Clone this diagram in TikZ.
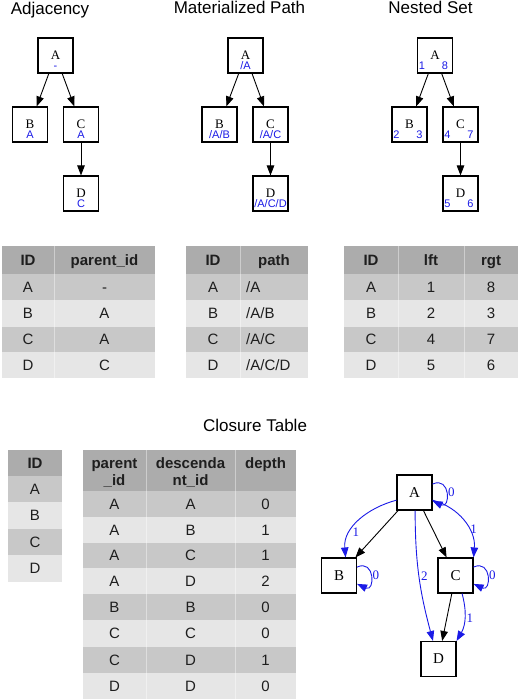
\documentclass[tikz,border=0pt]{standalone}
\usepackage{fontspec}
\setmainfont{Liberation Sans}
\newfontfamily\graphfont{Liberation Serif}
\usetikzlibrary{arrows.meta}
\definecolor{headgray}{HTML}{ACACAC}
\definecolor{darkrow}{HTML}{C8C8C8}
\definecolor{lightrow}{HTML}{E6E6E6}
\definecolor{celltext}{HTML}{1E1E1E}
\definecolor{subblue}{HTML}{1A1AE6}
\begin{document}
\begin{tikzpicture}[x=1pt, y=-1pt,
		treebox/.style={draw, line width=1.1pt, minimum size=35pt, inner sep=0pt, text depth=1.5pt, font=\graphfont\fontsize{13}{15}\selectfont},
		closurebox/.style={draw, line width=1.1pt, minimum size=35pt, inner sep=0pt, font=\graphfont\fontsize{15}{17}\selectfont},
		treearrow/.style={-{Triangle[length=10pt,width=7.5pt]}, line width=0.9pt},
		bluearc/.style={subblue, -{Triangle[length=10pt,width=7.5pt]}, line width=0.9pt},
		subtext/.style={anchor=base, inner sep=0pt, text=subblue, font=\fontsize{11}{13}\selectfont},
		edgelabel/.style={inner sep=1.5pt, text=subblue, font=\graphfont\fontsize{13}{15}\selectfont},
		titletext/.style={anchor=base, inner sep=0pt, font=\fontsize{17}{20}\selectfont},
		cell/.style={anchor=base, inner sep=0pt, text=celltext, font=\fontsize{15}{17}\selectfont},
		headcell/.style={cell, align=center, font=\bfseries\fontsize{15}{17}\selectfont},
		sep/.style={white, opacity=0.4, line width=1pt}]
		\useasboundingbox (0,0) rectangle (520,700);
		%Titles
		\node [titletext] (adjtitle) at (50,15) {Adjacency};
		\node [titletext] (mptitle) at (239.5,14) {Materialized Path};
		\node [titletext] (nstitle) at (430.5,14) {Nested Set};
		\node [titletext] (cttitle) at (255,431) {Closure Table};
		%Adjacency tree
		\node [treebox] (adjA) at (55.5,55.5) {A};
		\node [treebox] (adjB) at (30,124.5) {B};
		\node [treebox] (adjC) at (81,124.5) {C};
		\node [treebox] (adjD) at (81,193.5) {D};
		\draw [treearrow] (adjA) -- (adjB);
		\draw [treearrow] (adjA) -- (adjC);
		\draw [treearrow] (adjC) -- (adjD);
		\node [subtext] (adjAsub) at (55.5,69.5) {-};
		\node [subtext] (adjBsub) at (30,138.5) {A};
		\node [subtext] (adjCsub) at (81,138.5) {A};
		\node [subtext] (adjDsub) at (81,207.5) {C};
		%Materialized path tree
		\node [treebox] (mpA) at (245.5,55.5) {A};
		\node [treebox] (mpB) at (219.5,124.5) {B};
		\node [treebox] (mpC) at (270.5,124.5) {C};
		\node [treebox] (mpD) at (270.5,193.5) {D};
		\draw [treearrow] (mpA) -- (mpB);
		\draw [treearrow] (mpA) -- (mpC);
		\draw [treearrow] (mpC) -- (mpD);
		\node [subtext] (mpAsub) at (245.5,69.5) {/A};
		\node [subtext] (mpBsub) at (219.5,138.5) {/A/B};
		\node [subtext] (mpCsub) at (270.5,138.5) {/A/C};
		\node [subtext] (mpDsub) at (270.5,207.5) {/A/C/D};
		%Nested set tree
		\node [treebox] (nsA) at (435,55.5) {A};
		\node [treebox] (nsB) at (409.5,124.5) {B};
		\node [treebox] (nsC) at (460.5,124.5) {C};
		\node [treebox] (nsD) at (460.5,193.5) {D};
		\draw [treearrow] (nsA) -- (nsB);
		\draw [treearrow] (nsA) -- (nsC);
		\draw [treearrow] (nsC) -- (nsD);
		\node [subtext] (nsAlft) at (422,70) {1};
		\node [subtext] (nsArgt) at (445,70) {8};
		\node [subtext] (nsBlft) at (396.5,139) {2};
		\node [subtext] (nsBrgt) at (419.5,139) {3};
		\node [subtext] (nsClft) at (447.5,139) {4};
		\node [subtext] (nsCrgt) at (470.5,139) {7};
		\node [subtext] (nsDlft) at (447.5,208) {5};
		\node [subtext] (nsDrgt) at (470.5,208) {6};
		%Row backgrounds of the three upper tables
		\foreach \x/\xx in {2/155, 186/308, 344/518} {
			\fill [headgray] (\x,246) rectangle (\xx,274);
			\fill [darkrow] (\x,274) rectangle (\xx,300);
			\fill [lightrow] (\x,300) rectangle (\xx,327);
			\fill [darkrow] (\x,327) rectangle (\xx,352);
			\fill [lightrow] (\x,352) rectangle (\xx,378);
		}
		\draw [sep] (54,246) -- (54,378);
		\draw [sep] (240,246) -- (240,378);
		\draw [sep] (398,246) -- (398,378);
		\draw [sep] (464,246) -- (464,378);
		%Table headers
		\node [headcell] (adjhid) at (28,265.4) {ID};
		\node [headcell] (adjhpar) at (104.5,265.4) {parent\_id};
		\node [headcell] (mphid) at (213,265.4) {ID};
		\node [headcell] (mphpath) at (274,265.4) {path};
		\node [headcell] (nshid) at (371,265.4) {ID};
		\node [headcell] (nshlft) at (431,265.4) {lft};
		\node [headcell] (nshrgt) at (491,265.4) {rgt};
		%Table rows
		\foreach \yb/\id/\pid/\mpath/\lft/\rgt [count=\r] in {292.4/A/-/A/1/8, 318.9/B/A/A\slash B/2/3, 344.9/C/A/A\slash C/4/7, 370.4/D/C/A\slash C\slash D/5/6} {
			\node [cell] (adjid\r) at (28,\yb) {\id};
			\node [cell] (adjpar\r) at (104.5,\yb) {\pid};
			\node [cell] (mpid\r) at (213,\yb) {\id};
			\node [cell, anchor=base west] (mppath\r) at (246,\yb) {/\mpath};
			\node [cell] (nsid\r) at (371,\yb) {\id};
			\node [cell] (nslft\r) at (431,\yb) {\lft};
			\node [cell] (nsrgt\r) at (491,\yb) {\rgt};
		}
		%Closure table: ID column
		\fill [headgray] (8,450) rectangle (62,476);
		\fill [darkrow] (8,476) rectangle (62,502);
		\fill [lightrow] (8,502) rectangle (62,529);
		\fill [darkrow] (8,529) rectangle (62,555);
		\fill [lightrow] (8,555) rectangle (62,582);
		\node [headcell] (cthid) at (35,468.4) {ID};
		\foreach \yb/\id [count=\r] in {494.4/A, 520.9/B, 547.4/C, 573.9/D} {
			\node [cell] (ctid\r) at (35,\yb) {\id};
		}
		%Closure table: paths
		\fill [headgray] (83,450) rectangle (296,491);
		\foreach \top/\bot/\col in {491/517/darkrow, 517/543/lightrow, 543/568/darkrow, 568/594/lightrow, 594/620/darkrow, 620/647/lightrow, 647/673/darkrow, 673/699/lightrow} {
			\fill [\col] (83,\top) rectangle (296,\bot);
		}
		\draw [sep] (146,450) -- (146,699);
		\draw [sep] (235,450) -- (235,699);
		\node [headcell] (cthpar) at (114.5,485) {parent\\\_id};
		\node [headcell] (cthdesc) at (190.5,485) {descenda\\nt\_id};
		\node [headcell] (cthdepth) at (265.5,468) {depth};
		\foreach \yb/\p/\d/\n [count=\r] in {509.4/A/A/0, 535.4/A/B/1, 560.9/A/C/1, 586.4/A/D/2, 612.4/B/B/0, 638.9/C/C/0, 665.4/C/D/1, 691.4/D/D/0} {
			\node [cell] (ctpar\r) at (114.5,\yb) {\p};
			\node [cell] (ctdesc\r) at (190.5,\yb) {\d};
			\node [cell] (ctdepth\r) at (265.5,\yb) {\n};
		}
		%Closure graph
		\node [closurebox] (clA) at (414.5,492.5) {A};
		\node [closurebox] (clB) at (339,575.5) {B};
		\node [closurebox] (clC) at (455.5,575.5) {C};
		\node [closurebox] (clD) at (438.5,659) {D};
		\draw [treearrow] (clA) -- (clB);
		\draw [treearrow] (clA) -- (clC);
		\draw [treearrow] (clC) -- (clD);
		%Blue closure edges with depth
		\draw [bluearc] (clA.203) to[out=195, in=95] node[edgelabel, pos=0.68, right] {1} (clB.70);
		\draw [bluearc] (clA.-23) to[out=-15, in=85] node[edgelabel, pos=0.62, right] {1} (clC.north east);
		\draw [bluearc] (clA.-88) to[out=-90, in=105] node[edgelabel, pos=0.5, right] {2} (clD.107);
		\draw [bluearc] (clC.-70) to[out=-75, in=60] node[edgelabel, pos=0.5, right] {1} (clD.45);
		\draw [bluearc] (clA) to[loop, out=25, in=-25, min distance=20pt, max distance=20pt] node[edgelabel, right] {0} (clA);
		\draw [bluearc] (clB) to[loop, out=25, in=-25, min distance=20pt, max distance=20pt] node[edgelabel, right] {0} (clB);
		\draw [bluearc] (clC) to[loop, out=25, in=-25, min distance=20pt, max distance=20pt] node[edgelabel, right] {0} (clC);
\end{tikzpicture}
\end{document}
